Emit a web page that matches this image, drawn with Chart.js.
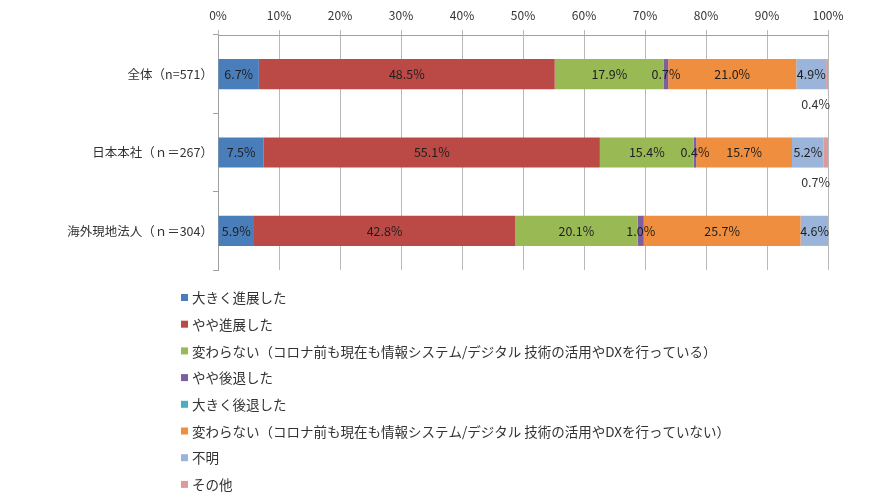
<!DOCTYPE html>
<html><head><meta charset="utf-8">
<script src="https://cdn.jsdelivr.net/npm/chart.js@4/dist/chart.umd.min.js"></script>
<style>html,body{margin:0;padding:0;background:#fff;}#wrap{width:896px;height:504px;position:relative;}</style>
</head><body><div id="wrap"><canvas id="c" width="896" height="504"></canvas></div>
<script>
const categories = ['全体（n=571）', '日本本社（ｎ＝267）', '海外現地法人（ｎ＝304）'];
const seriesNames = [
  '大きく進展した',
  'やや進展した',
  '変わらない（コロナ前も現在も情報システム/デジタル 技術の活用やDXを行っている）',
  'やや後退した',
  '大きく後退した',
  '変わらない（コロナ前も現在も情報システム/デジタル 技術の活用やDXを行っていない）',
  '不明',
  'その他'
];
const bigAdvance   = [6.7, 7.5, 5.9];
const someAdvance  = [48.5, 55.1, 42.8];
const sameDoing    = [17.9, 15.4, 20.1];
const someBack     = [0.7, 0.4, 1.0];
const bigBack      = [0, 0, 0];
const sameNotDoing = [21.0, 15.7, 25.7];
const unknown      = [4.9, 5.2, 4.6];
const other        = [0.4, 0.7, 0];
const xMin = 0, xMax = 100, xStep = 10;

const colors = ['#4A7EBB','#BB4A47','#98B954','#7D5FA0','#4BACC6','#EE8E3E','#9BB4DA','#DC9A98'];
const seriesData = [bigAdvance, someAdvance, sameDoing, someBack, bigBack, sameNotDoing, unknown, other];

const FONT = '"Noto Sans CJK JP", "Noto Sans", sans-serif';

const labelPlugin = {
  id: 'labels',
  afterDatasetsDraw(chart) {
    const ctx = chart.ctx;
    ctx.save();
    ctx.font = '12.5px ' + FONT;
    ctx.fillStyle = '#1e1e1e';
    ctx.textBaseline = 'middle';
    chart.data.datasets.forEach((ds, di) => {
      const meta = chart.getDatasetMeta(di);
      meta.data.forEach((bar, i) => {
        const v = ds.data[i];
        if (!v) return;
        const txt = v.toFixed(1) + '%';
        if (di === chart.data.datasets.length - 1) {
          ctx.textAlign = 'right';
          ctx.fillStyle = '#333';
          ctx.fillText(txt, chart.chartArea.right + 2, bar.y + bar.height / 2 + 15);
          ctx.fillStyle = '#1e1e1e';
        } else {
          ctx.textAlign = 'center';
          ctx.fillText(txt, (bar.x + bar.base) / 2, bar.y);
        }
      });
    });
    ctx.restore();
  }
};

const legendPlugin = {
  id: 'customLegend',
  afterDraw(chart) {
    const ctx = chart.ctx;
    ctx.save();
    ctx.font = '13.5px ' + FONT;
    ctx.textBaseline = 'middle';
    ctx.textAlign = 'left';
    chart.data.datasets.forEach((ds, i) => {
      const y = 298 + i * 26.7;
      ctx.fillStyle = ds.backgroundColor;
      ctx.fillRect(181, y - 4, 7, 7);
      ctx.fillStyle = '#333';
      ctx.fillText(ds.label, 192, y);
    });
    ctx.restore();
  }
};

new Chart(document.getElementById('c'), {
  type: 'bar',
  data: {
    labels: categories,
    datasets: seriesNames.map((n, i) => ({
      label: n,
      data: seriesData[i],
      backgroundColor: colors[i],
      borderWidth: 0,
      categoryPercentage: 1,
      barPercentage: 0.385
    }))
  },
  options: {
    indexAxis: 'y',
    responsive: false,
    animation: false,
    layout: { padding: { left: 0, top: 0, right: 68, bottom: 234 } },
    plugins: { legend: { display: false }, tooltip: { enabled: false } },
    scales: {
      x: {
        type: 'linear',
        position: 'top',
        stacked: true,
        min: xMin, max: xMax,
        afterFit(scale) { scale.height = 35; },
        ticks: { stepSize: xStep, callback: v => v + '%', color: '#333', font: { size: 12, family: FONT }, padding: 7, maxRotation: 0, autoSkip: false },
        grid: { color: '#b8b8b8', lineWidth: 1, tickLength: 5 },
        border: { color: '#a0a0a0', width: 1 }
      },
      y: {
        stacked: true,
        afterFit(scale) { scale.width = 218; },
        ticks: { color: '#333', font: { size: 12.5, family: FONT }, padding: 0 },
        grid: { offset: true, drawOnChartArea: false, tickLength: 5, color: '#a0a0a0' },
        border: { color: '#a0a0a0' }
      }
    }
  },
  plugins: [labelPlugin, legendPlugin]
});
</script></body></html>
